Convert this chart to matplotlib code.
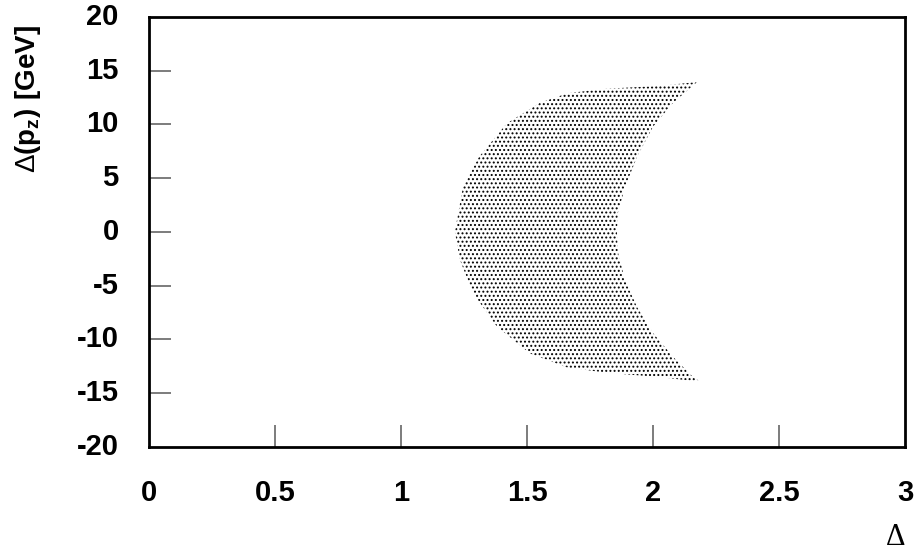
import numpy as np
import matplotlib
matplotlib.use("Agg")
from matplotlib import pyplot as plt

plt.rcParams["font.family"] = ["Liberation Sans", "DejaVu Sans"]
plt.rcParams["mathtext.fontset"] = "custom"
plt.rcParams["mathtext.rm"] = "Liberation Sans"
plt.rcParams["mathtext.bf"] = "Liberation Sans:bold"
plt.rcParams["hatch.color"] = "black"
plt.rcParams["hatch.linewidth"] = 0.9

# outline of the scattered crescent
outer_x = [2.175, 2.03, 1.80, 1.66, 1.55, 1.42, 1.31, 1.246, 1.222, 1.214,
           1.234, 1.286, 1.381, 1.512, 1.659, 1.817, 2.03, 2.19]
outer_y = [13.95, 13.6, 13.3, 12.9, 12.0, 10.1, 7.0, 4.2, 1.1, 0.0,
           -2.6, -5.7, -8.8, -11.3, -12.6, -13.1, -13.5, -13.95]
inner_x = [2.159, 2.079, 2.0, 1.937, 1.889, 1.861, 1.857, 1.861, 1.889, 1.937, 2.0, 2.079]
inner_y = [-13.5, -11.6, -9.4, -7.0, -4.5, -1.9, 0.0, 1.8, 4.2, 7.0, 9.8, 12.0]

xticks = [0.5, 1, 1.5, 2, 2.5]
xlabels = ["0", "0.5", "1", "1.5", "2", "2.5", "3"]
yticks = [15, 10, 5, 0, -5, -10, -15]
ylabels = ["20", "15", "10", "5", "0", "-5", "-10", "-15", "-20"]

fig = plt.figure(figsize=(9.17, 5.53), dpi=100)
ax = fig.add_axes([0.1625, 0.1917, 0.8244, 0.7776])

ax.fill(outer_x + inner_x, outer_y + inner_y, facecolor="none",
        edgecolor="black", hatch="....", linewidth=0)

ax.set_xlim(0, 3)
ax.set_ylim(-20, 20)
for side in ["left", "bottom", "right", "top"]:
    ax.spines[side].set_linewidth(2)

ax.set_xticks(xticks)
ax.set_yticks(yticks)
ax.tick_params(direction="in", length=16, width=1.2, color="#666666",
               labelsize=0, labelcolor="none")

# tick labels also at the axis ends, where there are no tick marks
for v, s in zip([0, 0.5, 1, 1.5, 2, 2.5, 3], xlabels):
    ax.text(v, -0.075, s, transform=ax.get_xaxis_transform(), ha="center", va="top",
            fontsize=21, fontweight="bold")
for v, s in zip([20, 15, 10, 5, 0, -5, -10, -15, -20], ylabels):
    ax.text(-0.04, v, s, transform=ax.get_yaxis_transform(), ha="right", va="center",
            fontsize=21, fontweight="bold")

fig.text(0.03, 0.821, r"$\mathrm{\Delta}\mathbf{(p_z)\ [GeV]}$", rotation=90, ha="center",
         va="center", fontsize=20)
fig.text(0.977, 0.0145, "Δ", ha="center", va="baseline", fontsize=22,
         family=["Liberation Serif", "DejaVu Serif"])

fig.savefig("out.png", dpi=100)
